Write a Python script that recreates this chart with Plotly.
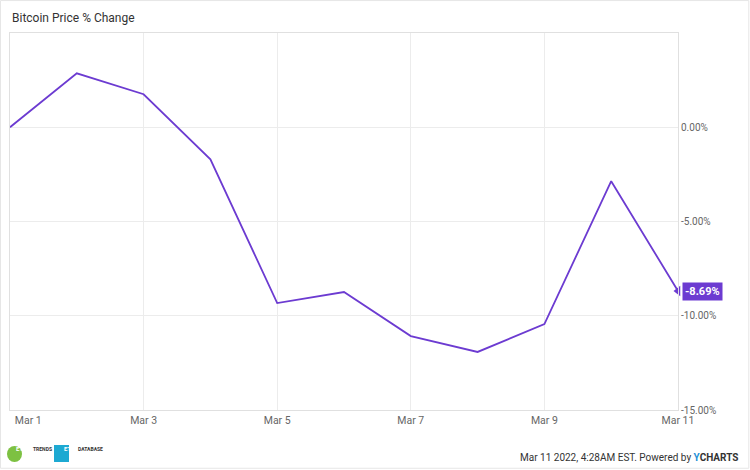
import plotly.graph_objects as go

dates = ["2022-03-01", "2022-03-02", "2022-03-03", "2022-03-04", "2022-03-05", "2022-03-06",
         "2022-03-07", "2022-03-08", "2022-03-09", "2022-03-10", "2022-03-11"]
pct_change = [0.0, 2.86, 1.75, -1.70, -9.33, -8.74, -11.08, -11.92, -10.44, -2.86, -8.69]
tick_dates = ["2022-03-01", "2022-03-03", "2022-03-05", "2022-03-07", "2022-03-09", "2022-03-11"]
tick_labels = ["\u00a0" * 14 + "Mar 1", "Mar 3", "Mar 5", "Mar 7", "Mar 9", "Mar 11"]
y_ticks = [0, -5, -10, -15]
y_labels = ["0.00%", "-5.00%", "-10.00%", "-15.00%"]

PURPLE = "#6c3bd1"
GRID = "#ececec"
TXT = "#666666"
FONT = "Roboto"

fig = go.Figure()
fig.add_trace(go.Scatter(x=dates, y=pct_change, mode="lines",
                         line=dict(color=PURPLE, width=1.8), hoverinfo="skip", showlegend=False))
# arrow tip of last value tag
fig.add_trace(go.Scatter(x=[dates[-1]], y=[pct_change[-1]], mode="markers",
                         marker=dict(symbol="triangle-left", size=9, color=PURPLE),
                         cliponaxis=False, hoverinfo="skip", showlegend=False))

fig.add_annotation(x=dates[-1], y=pct_change[-1], xref="x", yref="y",
                   text="<b>%.2f%%</b>" % pct_change[-1], showarrow=False,
                   xanchor="left", xshift=4, bgcolor=PURPLE, borderpad=2,
                   font=dict(color="white", size=11, family=FONT))

fig.add_annotation(x=0, y=1.0398, xref="paper", yref="paper", xanchor="left", yanchor="middle",
                   text="Bitcoin Price % Change", showarrow=False,
                   font=dict(size=12, color="#333333", family=FONT))

# footer
fig.add_annotation(x=1.0928, y=-0.127, xref="paper", yref="paper", xanchor="right", yanchor="middle",
                   text="Mar 11 2022, 4:28AM EST. Powered by <b><span style='color:#1e8fd6'>Y</span><span style='color:#333'>CHARTS</span></b>",
                   showarrow=False, font=dict(size=10, color="#333333", family=FONT))
# logos
fig.add_shape(type="circle", xref="paper", yref="paper", x0=-0.0045, x1=0.018, y0=-0.1379, y1=-0.0955,
              fillcolor="#7dc142", line=dict(width=0))
fig.add_annotation(x=0.0067, y=-0.1167, xref="paper", yref="paper", text="<b>ETF</b>", showarrow=False,
                   font=dict(size=6, color="white", family=FONT))
fig.add_annotation(x=0.0314, y=-0.1167, xref="paper", yref="paper", xanchor="left", text="<b>TRENDS</b>",
                   showarrow=False, font=dict(size=5, color="#333", family=FONT))
fig.add_shape(type="rect", xref="paper", yref="paper", x0=0.0659, x1=0.0883, y0=-0.1379, y1=-0.0928,
              fillcolor="#1da9d2", line=dict(width=0))
fig.add_annotation(x=0.0771, y=-0.1167, xref="paper", yref="paper", text="<b>ETF</b>", showarrow=False,
                   font=dict(size=6, color="white", family=FONT))
fig.add_annotation(x=0.0988, y=-0.1167, xref="paper", yref="paper", xanchor="left", text="<b>DATABASE</b>",
                   showarrow=False, font=dict(size=5, color="#333", family=FONT))
# outer frame
fig.add_shape(type="rect", xref="paper", yref="paper", x0=-0.0142, x1=1.106, y0=-0.1545, y1=1.086,
              line=dict(color="#e6e6e6", width=1), fillcolor="rgba(0,0,0,0)", layer="below")

fig.update_layout(
    width=750, height=470,
    margin=dict(l=10, r=72, t=33, b=60),
    paper_bgcolor="white", plot_bgcolor="white",
    font=dict(family=FONT, color=TXT, size=11),
    xaxis=dict(type="date", range=[dates[0], dates[-1]], tickvals=tick_dates, ticktext=tick_labels,
               showgrid=True, gridcolor=GRID, zeroline=False, showline=True, linecolor="#e0e0e0",
               mirror=True, ticks="", automargin=False, ticklabeloverflow="allow",
               tickfont=dict(size=10.5, color=TXT)),
    yaxis=dict(range=[-15, 5], side="right", tickvals=y_ticks, ticktext=y_labels,
               showgrid=True, gridcolor=GRID, zeroline=False, showline=True, linecolor="#e0e0e0",
               mirror=True, ticks="", automargin=False, ticklabeloverflow="allow",
               tickfont=dict(size=10, color=TXT)),
)
fig.write_html("out.html", config={"displayModeBar": False},
               post_script="document.body.style.margin='0px';")
